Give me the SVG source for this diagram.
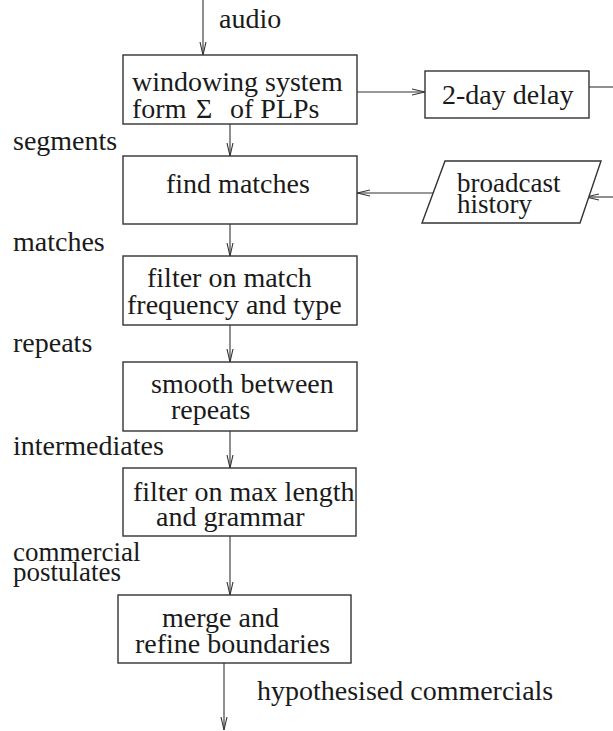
<svg xmlns="http://www.w3.org/2000/svg" width="613" height="731" viewBox="0 0 613 731">
<style>
text{font-family:'Liberation Serif','Times New Roman',serif;font-size:28px;fill:#1a1a1a}
.t2{font-size:27px}
.box{fill:#fff;stroke:#333;stroke-width:1.4}
.ln{fill:none;stroke:#333;stroke-width:1.1}
</style>
<defs>
<marker id="ah" viewBox="0 0 13 8" refX="13" refY="4" markerWidth="13" markerHeight="8" markerUnits="userSpaceOnUse" orient="auto">
<path d="M0,1 L13,4 L0,7" fill="none" stroke="#333" stroke-width="1.1"/>
</marker>
</defs>
<rect width="613" height="731" fill="#fff"/>
<g id="connectors">
<line class="ln" x1="203" y1="0" x2="203" y2="55" marker-end="url(#ah)"/>
<line class="ln" x1="357" y1="92" x2="425" y2="92" marker-end="url(#ah)"/>
<line class="ln" x1="589" y1="87" x2="613" y2="87"/>
<line class="ln" x1="613" y1="197" x2="586" y2="197" marker-end="url(#ah)"/>
<line class="ln" x1="433" y1="193" x2="357" y2="193" marker-end="url(#ah)"/>
<line class="ln" x1="230" y1="124" x2="230" y2="156" marker-end="url(#ah)"/>
<line class="ln" x1="230" y1="224" x2="230" y2="256" marker-end="url(#ah)"/>
<line class="ln" x1="230" y1="325" x2="230" y2="362" marker-end="url(#ah)"/>
<line class="ln" x1="230" y1="431" x2="230" y2="468" marker-end="url(#ah)"/>
<line class="ln" x1="230" y1="536" x2="230" y2="595" marker-end="url(#ah)"/>
<line class="ln" x1="224" y1="663" x2="224" y2="730" marker-end="url(#ah)"/>
</g>
<g id="labels">
<text x="219" y="28">audio</text>
<text x="13" y="150">segments</text>
<text x="13" y="251">matches</text>
<text x="13" y="352">repeats</text>
<text x="13" y="455">intermediates</text>
<text class="t2" x="13" y="561">commercial</text>
<text class="t2" x="13" y="581">postulates</text>
<text x="257" y="700">hypothesised commercials</text>
</g>
<g id="windowing">
<rect class="box" x="123" y="55" width="234" height="69"/>
<text x="132" y="91">windowing system</text>
<text x="132" y="118">form</text>
<text x="196" y="118">Σ</text>
<text x="230" y="118">of PLPs</text>
</g>
<g id="delay">
<rect class="box" x="425" y="71" width="164" height="47"/>
<text x="442" y="104">2-day delay</text>
</g>
<g id="history">
<polygon class="box" points="445,161 601,161 580,223 422,223"/>
<text class="t2" x="457" y="192">broadcast</text>
<text class="t2" x="457" y="213">history</text>
</g>
<g id="find">
<rect class="box" x="123" y="156" width="234" height="68"/>
<text x="166" y="193">find matches</text>
</g>
<g id="filter1">
<rect class="box" x="123" y="256" width="234" height="69"/>
<text x="147" y="287">filter on match</text>
<text x="127" y="314">frequency and type</text>
</g>
<g id="smooth">
<rect class="box" x="123" y="362" width="234" height="69"/>
<text x="151" y="393">smooth between</text>
<text x="171" y="419">repeats</text>
</g>
<g id="filter2">
<rect class="box" x="123" y="468" width="233" height="68"/>
<text x="133" y="501">filter on max length</text>
<text x="156" y="526">and grammar</text>
</g>
<g id="merge">
<rect class="box" x="118" y="595" width="233" height="68"/>
<text x="162" y="627">merge and</text>
<text x="135" y="653">refine boundaries</text>
</g>
</svg>
